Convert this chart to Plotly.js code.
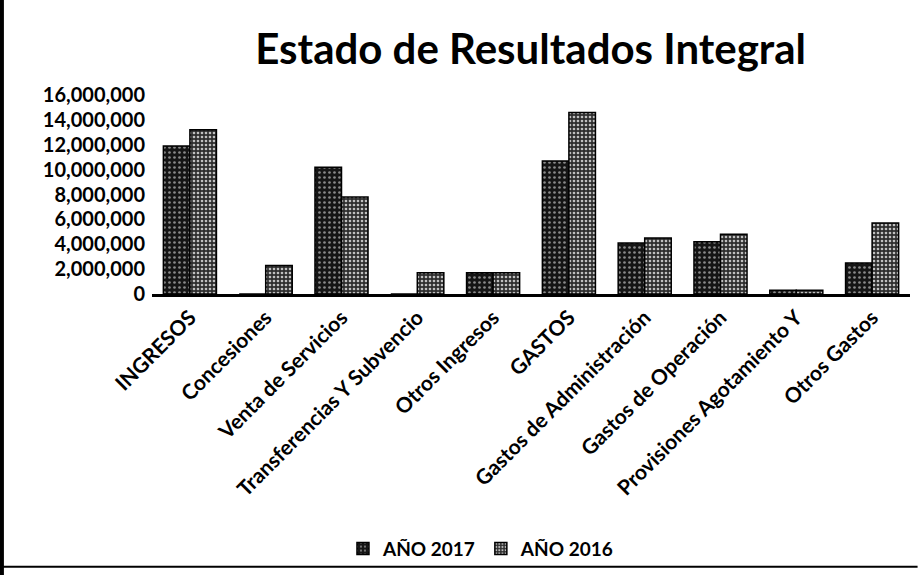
<!DOCTYPE html>
<html><head><meta charset="utf-8">
<script src="https://cdn.plot.ly/plotly-3.0.1.min.js"></script>
<style>html,body{margin:0;padding:0;background:#fff}#c{width:918px;height:575px}</style>
</head><body><div id="c"></div>
<script>
const categories = ["INGRESOS","Concesiones","Venta de Servicios","Transferencias Y Subvencio","Otros Ingresos","GASTOS","Gastos de Administración","Gastos de Operación","Provisiones Agotamiento Y","Otros Gastos"];
const values2017 = [11900000, 0, 10200000, 0, 1700000, 10700000, 4100000, 4200000, 300000, 2500000];
const values2016 = [13200000, 2300000, 7800000, 1700000, 1700000, 14600000, 4500000, 4800000, 300000, 5700000];
const seriesNames = ["AÑO 2017", "AÑO 2016"];
const yTickVals = [0,2000000,4000000,6000000,8000000,10000000,12000000,14000000,16000000];
const yTickText = ["0","2,000,000","4,000,000","6,000,000","8,000,000","10,000,000","12,000,000","14,000,000","16,000,000"];

const font = "Lato, 'Open Sans', sans-serif";
const traces = [
  {type:"bar", name:seriesNames[0], x:categories, y:values2017,
   marker:{color:"#1e1e1e", line:{color:"#000", width:1.5},
     pattern:{shape:".", fgcolor:"#8a8a8a", bgcolor:"#151515", size:5, solidity:0.22}}},
  {type:"bar", name:seriesNames[1], x:categories, y:values2016,
   marker:{color:"#3a3a3a", line:{color:"#000", width:1.5},
     pattern:{shape:".", fgcolor:"#c0c0c0", bgcolor:"#2e2e2e", size:4, solidity:0.35}}}
];
const layout = {
  width:918, height:575,
  margin:{l:152, r:8, t:95, b:281},
  paper_bgcolor:"#fff", plot_bgcolor:"#fff",
  title:{text:"Estado de Resultados Integral", font:{family:font, size:42, color:"#000", weight:700},
         x:0.578, xanchor:"center", y:0.915, yanchor:"middle"},
  barmode:"group", bargap:0.3, bargroupgap:0,
  xaxis:{tickangle:-45, tickfont:{family:font, size:21, color:"#000", weight:700},
         showline:true, linecolor:"#000", linewidth:3, ticks:"", showgrid:false, automargin:false},
  yaxis:{range:[0,16000000], tickvals:yTickVals, ticktext:yTickText,
         tickfont:{family:font, size:20, color:"#000", weight:700},
         showgrid:false, zeroline:false, showline:false, ticks:"", ticklabelstandoff:6, automargin:false},
  showlegend:true,
  legend:{orientation:"h", x:0.434, xanchor:"center", y:-1.28, yanchor:"middle", bgcolor:"rgba(0,0,0,0)",
          font:{family:font, size:19, color:"#000", weight:700}, itemwidth:30, traceorder:"normal"},
  shapes:[
    {type:"line", xref:"paper", yref:"paper", x0:-0.198, x1:-0.198, y0:-1.42, y1:1.48, line:{color:"#000", width:4}},
    {type:"line", xref:"paper", yref:"paper", x0:-0.198, x1:1.01, y0:-1.37, y1:-1.37, line:{color:"#000", width:2}}
  ]
};
Plotly.newPlot("c", traces, layout, {displayModeBar:false, staticPlot:true});
</script></body></html>
